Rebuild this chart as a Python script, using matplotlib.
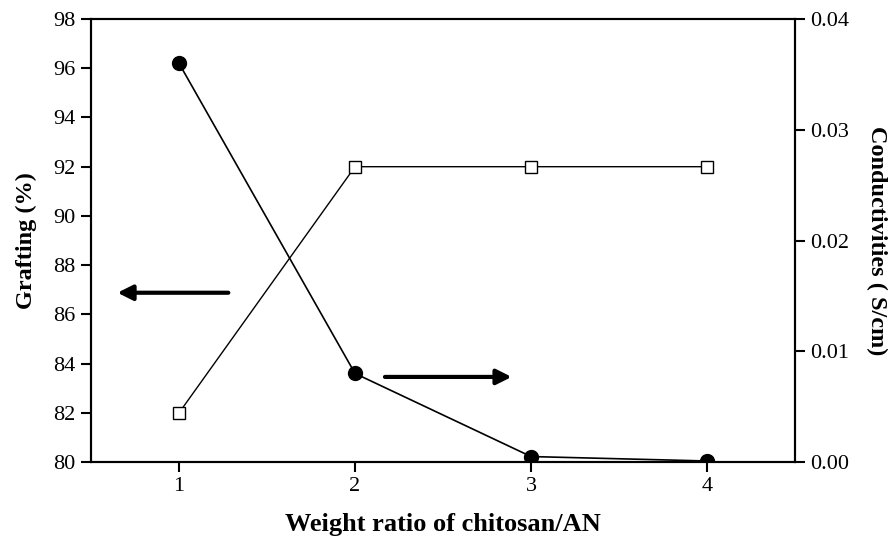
import matplotlib
matplotlib.use('Agg')
import matplotlib.pyplot as plt
from matplotlib.ticker import FormatStrFormatter

plt.rcParams['font.family'] = ['Liberation Serif', 'DejaVu Serif']

# 数据
weight_ratio = [1, 2, 3, 4]
grafting = [82.0, 92.0, 92.0, 92.0]
conductivity = [0.0360, 0.0080, 0.0005, 0.0001]

fig = plt.figure(figsize=(8.95, 5.43), dpi=100)
ax1 = fig.add_axes([0.1017, 0.149, 0.7866, 0.816])
ax2 = ax1.twinx()

ax1.plot(weight_ratio, grafting, color='black', linewidth=1.0, marker='s',
         markersize=9, markerfacecolor='white', markeredgecolor='black',
         markeredgewidth=1.0, zorder=3)
ax2.plot(weight_ratio, conductivity, color='black', linewidth=1.2, marker='o',
         markersize=10, markerfacecolor='black', markeredgecolor='black', zorder=3)

ax1.set_xlim(0.5, 4.5)
ax1.set_ylim(80, 98)
ax1.set_yticks(range(80, 99, 2))
ax1.set_xticks(weight_ratio)
ax2.set_ylim(0, 0.04)
ax2.set_yticks([0.0, 0.01, 0.02, 0.03, 0.04])
ax2.yaxis.set_major_formatter(FormatStrFormatter('%.2f'))

for ax in (ax1, ax2):
    for s in ax.spines.values():
        s.set_linewidth(1.5)
    ax.tick_params(direction='out', length=7, width=1.5, labelsize=16, pad=4)

ax1.set_xlabel('Weight ratio of chitosan/AN', fontsize=19,
               fontweight='bold', labelpad=12)
ax1.set_ylabel('Grafting (%)', fontsize=17.5, fontweight='bold', labelpad=12)
ax2.set_ylabel('Conductivities ( S/cm)', fontsize=17.5, fontweight='bold',
               rotation=270, labelpad=27)

# 箭头
arrow_style = dict(arrowstyle='-|>,head_length=0.9,head_width=0.45', color='black',
                   linewidth=3, shrinkA=0, shrinkB=0)
ax1.annotate('', xy=(0.65, 86.88), xytext=(1.28, 86.88), arrowprops=arrow_style)
ax1.annotate('', xy=(2.89, 83.46), xytext=(2.17, 83.46), arrowprops=arrow_style)

plt.savefig('out.png', dpi=100)
plt.close()
